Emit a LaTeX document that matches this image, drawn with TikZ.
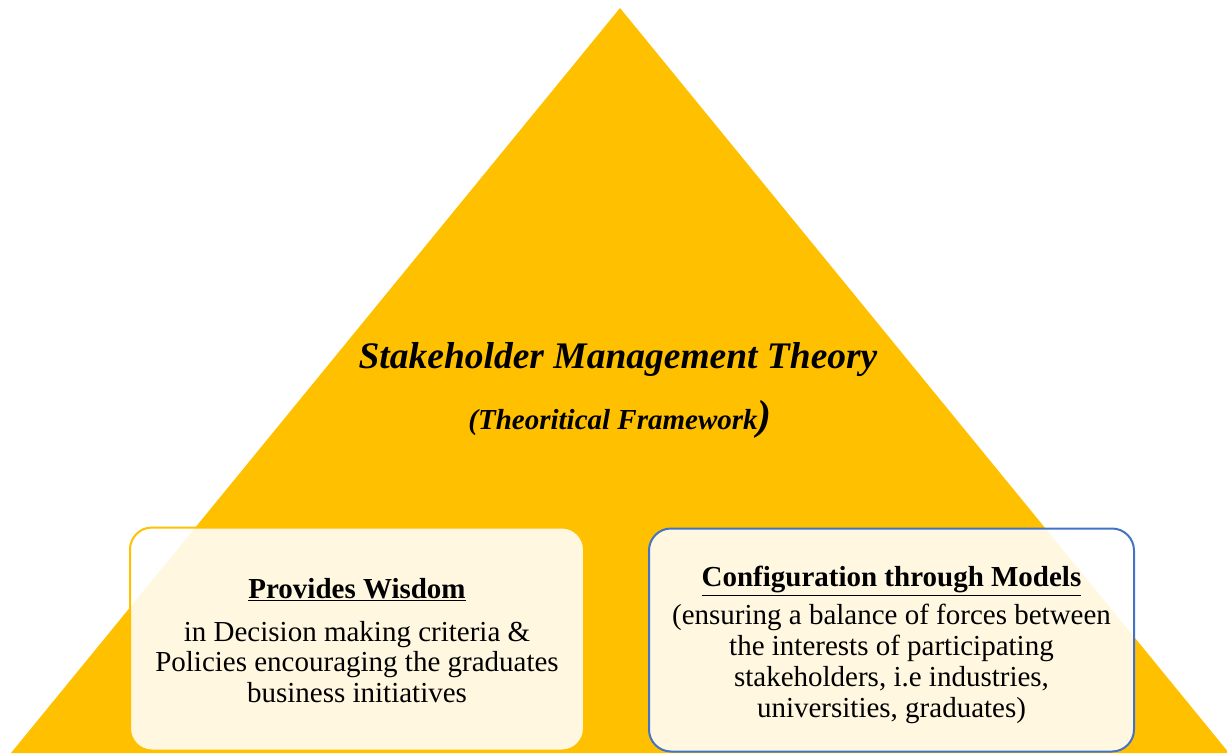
\documentclass[tikz,border=0pt]{standalone}
\usepackage{fontspec}
\setmainfont{Liberation Serif}
\definecolor{pyramid}{HTML}{FFC000}
\definecolor{panelblue}{HTML}{4472C4}
\begin{document}
\begin{tikzpicture}[x=1pt,y=-1pt,
  panel/.style={rectangle, rounded corners=22pt, fill=white, fill opacity=0.88,
    line width=2pt, minimum width=#1, minimum height=223pt, inner sep=0pt},
  paneltext/.style={inner sep=0pt, align=center, font=\fontsize{29}{30.8}\selectfont},
  heading/.style={font=\fontsize{#1}{#1}\selectfont\bfseries\itshape}]
\useasboundingbox (0,0) rectangle (1227,753);
% the pyramid
\fill[pyramid] (620,8) -- (1229,753) -- (11,753) -- cycle;
% title
\node[heading=37.5] (title) at (618,360) {Stakeholder Management Theory};
\node[heading=29] (subtitle) at (620,419)
  {(Theoritical Framework{\fontsize{42}{42}\selectfont)}};
% the two panels
\node[panel=454pt, draw=pyramid] (wisdom) at (357,639) {};
\node[paneltext] (wisdomtext) at ([yshift=-1.5pt]wisdom.center)
  {\underline{\textbf{Provides Wisdom}}\\[12pt]
   in Decision making criteria \&\\
   Policies encouraging the graduates\\
   business initiatives};
\node[panel=485pt, draw=panelblue] (models) at (891.5,640) {};
\node[paneltext] (modelstext) at ([yshift=-5pt]models.center)
  {\underline{\textbf{Configuration through Models}}\\[7pt]
   (ensuring a balance of forces between\\
   the interests of participating\\
   stakeholders, i.e industries,\\
   universities, graduates)};
\end{tikzpicture}
\end{document}
